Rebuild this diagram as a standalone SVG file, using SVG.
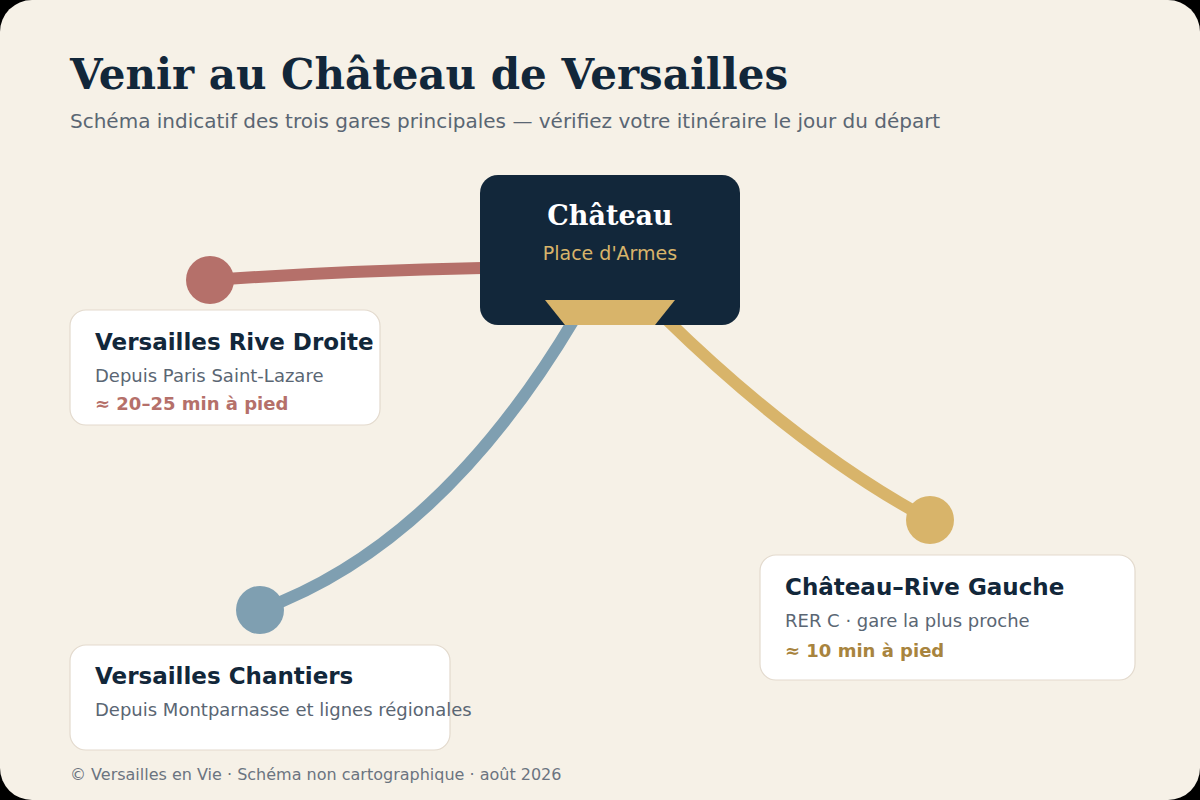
<svg xmlns="http://www.w3.org/2000/svg" width="1200" height="800" viewBox="0 0 1200 800">
<style>
.card{fill:#ffffff;stroke:#e3dace;stroke-width:1.2}
.ct{font-family:"DejaVu Sans",sans-serif;font-weight:bold;font-size:23px;fill:#12273a}
.cs{font-family:"DejaVu Sans",sans-serif;font-size:18px;fill:#5a6673}
.cw{font-family:"DejaVu Sans",sans-serif;font-weight:bold;font-size:18px}
.line{fill:none;stroke-width:12;stroke-linecap:round}
</style>
<rect x="0" y="0" width="1200" height="800" fill="#000000"/>
<rect x="0" y="0" width="1200" height="800" rx="32" fill="#f6f1e7"/>
<text x="70" y="89" font-family="'DejaVu Serif',serif" font-weight="bold" font-size="42" fill="#12273a">Venir au Château de Versailles</text>
<text x="70" y="128" font-family="'DejaVu Sans',sans-serif" font-size="20" fill="#5a6673">Schéma indicatif des trois gares principales — vérifiez votre itinéraire le jour du départ</text>
<g id="connectors">
<path class="line" stroke="#b5706a" d="M 210 280 Q 340 271 482 268"/>
<path class="line" stroke="#7f9fb1" d="M 575 318 Q 440 545 260 610"/>
<path class="line" stroke="#d8b46a" d="M 665 318 Q 800 450 930 520"/>
<circle cx="210" cy="280" r="24" fill="#b5706a"/>
<circle cx="260" cy="610" r="24" fill="#7f9fb1"/>
<circle cx="930" cy="520" r="24" fill="#d8b46a"/>
</g>
<g id="chateau">
<rect x="480" y="175" width="260" height="150" rx="18" fill="#12273a"/>
<polygon points="545,300 675,300 655,325 565,325" fill="#d8b46a"/>
<text x="610" y="225" text-anchor="middle" font-family="'DejaVu Serif',serif" font-weight="bold" font-size="27" fill="#ffffff">Château</text>
<text x="610" y="260" text-anchor="middle" font-family="'DejaVu Sans',sans-serif" font-size="19" fill="#d8b46a">Place d'Armes</text>
</g>
<g id="rive-droite">
<rect class="card" x="70" y="310" width="310" height="115" rx="16"/>
<text class="ct" x="95" y="350">Versailles Rive Droite</text>
<text class="cs" x="95" y="382">Depuis Paris Saint-Lazare</text>
<text class="cw" x="95" y="410" fill="#b5706a">≈ 20–25 min à pied</text>
</g>
<g id="chantiers">
<rect class="card" x="70" y="645" width="380" height="105" rx="16"/>
<text class="ct" x="95" y="684">Versailles Chantiers</text>
<text class="cs" x="95" y="716">Depuis Montparnasse et lignes régionales</text>
</g>
<g id="rive-gauche">
<rect class="card" x="760" y="555" width="375" height="125" rx="16"/>
<text class="ct" x="785" y="595">Château–Rive Gauche</text>
<text class="cs" x="785" y="627">RER C · gare la plus proche</text>
<text class="cw" x="785" y="657" fill="#a8843e">≈ 10 min à pied</text>
</g>
<text x="70" y="780" font-family="'DejaVu Sans',sans-serif" font-size="16" fill="#6b7480">© Versailles en Vie · Schéma non cartographique · août 2026</text>
</svg>
